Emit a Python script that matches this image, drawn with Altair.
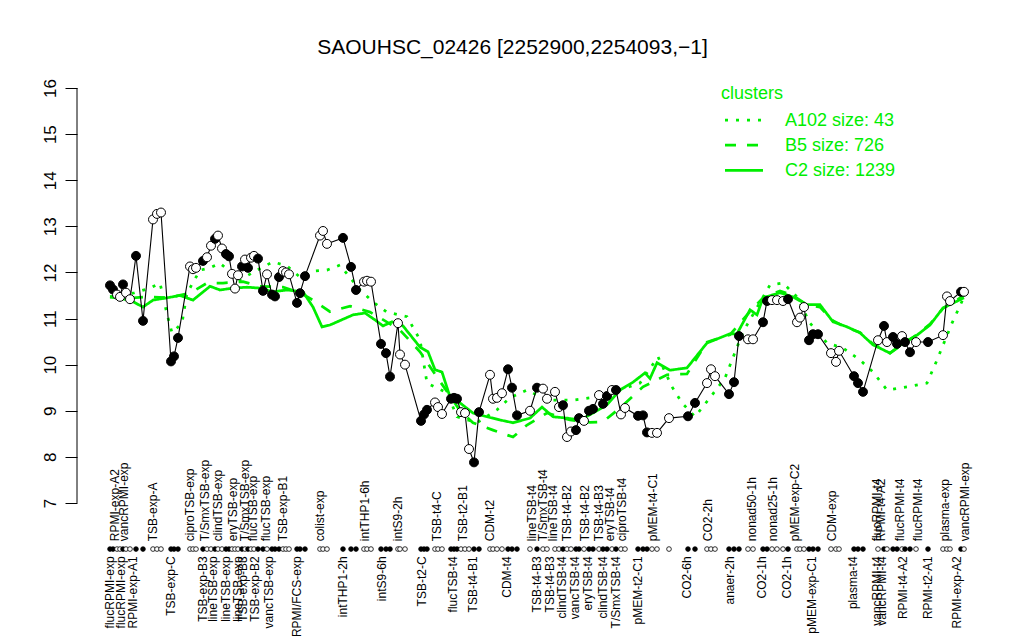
import altair as alt
import pandas as pd

# ---- sample data (position along the x ordering, expression value, filled marker) ----
pos = [110, 113, 117, 120, 123, 126, 130, 136, 143, 153, 157, 161, 171, 174, 178,
       190, 193, 196, 203, 207, 211, 215, 218, 222, 226, 229, 232, 235, 238, 242,
       245, 248, 251, 254, 258, 263, 267, 272, 275, 279, 283, 286, 289, 297, 300,
       305, 320, 323, 327, 343, 351, 356, 364, 367, 371, 381, 386, 390, 398, 400,
       405, 421, 424, 427, 435, 438, 442, 451, 454, 457, 461, 465, 469, 474, 479,
       490, 493, 497, 502, 508, 512, 517, 530, 537, 543, 547, 555, 559, 563, 567,
       571, 576, 579, 584, 589, 593, 599, 603, 607, 612, 616, 621, 625, 638, 643,
       647, 652, 657, 669, 688, 695, 707, 711, 715, 729, 734, 739, 748, 753, 763,
       767, 772, 777, 783, 788, 797, 800, 804, 809, 813, 818, 831, 836, 839, 854,
       858, 863, 878, 884, 887, 893, 897, 902, 905, 910, 916, 928, 943, 947, 950,
       961, 964]
val = [11.72, 11.63, 11.52, 11.47, 11.74, 11.56, 11.42, 12.36, 10.95, 13.15, 13.27, 13.30, 10.07, 10.18, 10.58,
       12.13, 12.07, 12.10, 12.25, 12.33, 12.58, 12.73, 12.80, 12.52, 12.40, 12.35, 11.97, 11.65, 11.94, 12.13,
       12.28, 12.10, 12.32, 12.36, 12.30, 11.60, 11.96, 11.52, 11.48, 11.90, 12.03, 12.00, 11.96, 11.34, 11.55,
       11.92, 12.80, 12.90, 12.62, 12.75, 12.12, 11.62, 11.80, 11.82, 11.80, 10.45, 10.25, 9.74, 10.90, 10.22,
       10.00, 8.78, 8.92, 9.02, 9.18, 9.08, 8.93, 9.26, 9.28, 9.26, 8.97, 8.95, 8.17, 7.88, 8.97,
       9.78, 9.26, 9.28, 9.38, 9.90, 9.50, 8.90, 9.00, 9.50, 9.48, 9.26, 9.41, 9.08, 9.12, 8.43,
       8.55, 8.58, 8.84, 8.78, 9.00, 9.04, 9.34, 9.15, 9.32, 9.45, 9.45, 8.92, 9.06, 8.89, 8.90,
       8.53, 8.52, 8.52, 8.84, 8.88, 9.17, 9.60, 9.90, 9.75, 9.36, 9.62, 10.62, 10.55, 10.55, 10.92,
       11.38, 11.40, 11.40, 11.38, 11.42, 10.92, 11.02, 11.25, 10.53, 10.66, 10.66, 10.25, 10.06, 10.30, 9.75,
       9.60, 9.41, 10.53, 10.84, 10.49, 10.60, 10.45, 10.62, 10.49, 10.27, 10.49, 10.49, 10.64, 11.48, 11.38,
       11.58, 11.58]
filled = [1, 1, 0, 0, 1, 0, 0, 1, 1, 0, 0, 0, 1, 1, 1,
          0, 0, 0, 1, 0, 0, 1, 0, 0, 1, 1, 0, 0, 0, 1,
          0, 1, 0, 0, 1, 1, 0, 1, 1, 1, 0, 0, 0, 1, 1,
          1, 0, 0, 0, 1, 1, 1, 0, 0, 0, 1, 1, 1, 0, 0,
          0, 1, 1, 1, 0, 0, 0, 1, 1, 1, 0, 0, 0, 1, 1,
          0, 0, 0, 0, 1, 1, 1, 0, 1, 0, 0, 0, 0, 1, 0,
          0, 1, 1, 0, 1, 1, 0, 1, 1, 0, 1, 0, 0, 1, 1,
          1, 0, 0, 0, 1, 1, 0, 0, 0, 1, 1, 1, 0, 0, 1,
          1, 0, 0, 0, 1, 0, 0, 0, 1, 1, 1, 0, 0, 0, 1,
          1, 1, 0, 1, 0, 1, 1, 0, 1, 1, 0, 1, 0, 0, 0,
          1, 0]

# ---- sample labels (above and below the marker row) ----
top_labels = ["RPMI-exp-A2", "vancRPMI-exp", "TSB-exp-A", "ciproTSB-exp", "T/SmxTSB-exp",
              "clindTSB-exp", "eryTSB-exp", "T/SmxTSB-exp", "flucTSB-exp", "flucTSB-exp",
              "TSB-exp-B1", "colist-exp", "intTHP1-6h", "intS9-2h", "TSB-t4-C", "TSB-t2-B1",
              "CDM-t2", "lineTSB-t4", "T/SmxTSB-t4", "lineTSB-t4", "TSB-t4-B2", "TSB-t4-B2",
              "TSB-t4-B3", "eryTSB-t4", "ciproTSB-t4", "pMEM-t4-C1", "CO2-2h", "nonad50-1h",
              "nonad25-1h", "pMEM-exp-C2", "CDM-exp", "flucRPMI-t4", "RPMI-t4-A2",
              "flucRPMI-t4", "flucRPMI-t4", "plasma-exp", "vancRPMI-exp"]
top_pos = [115, 124, 153, 190, 205, 218, 233, 245, 253, 266, 283, 320, 365, 398, 437, 463,
           490, 532, 543, 553, 567, 585, 599, 610, 622, 653, 708, 752, 773, 795, 832, 877,
           881, 900, 918, 945, 965]
bottom_labels = ["flucRPMI-exp", "flucRPMI-exp", "RPMI-exp-A1", "TSB-exp-C", "TSB-exp-B3",
                 "lineTSB-exp", "lineTSB-exp", "lineTSB-exp", "TSB-exp-B3", "TSB-exp-B2",
                 "vancTSB-exp", "RPMI/FCS-exp", "intTHP1-2h", "intS9-6h", "TSB-t2-C",
                 "flucTSB-t4", "TSB-t4-B1", "CDM-t4", "TSB-t4-B3", "TSB-t4-B3", "clindTSB-t4",
                 "vancTSB-t4", "eryTSB-t4", "clindTSB-t4", "T/SmxTSB-t4", "pMEM-t2-C1",
                 "CO2-6h", "anaer-2h", "CO2-1h", "CO2-1h", "pMEM-exp-C1", "plasma-t4",
                 "vancRPMI-t4", "vancRPMI-t4", "RPMI-t4-A2", "RPMI-t2-A1", "RPMI-exp-A2"]
bottom_pos = [110, 121, 133, 171, 203, 213, 226, 238, 243, 255, 269, 297, 343, 382, 422,
              453, 473, 507, 537, 550, 562, 575, 588, 603, 616, 638, 687, 730, 762, 787,
              812, 853, 877, 882, 903, 928, 957]

# ---- cluster profiles ----
cluster_names = ["A102", "B5", "C2"]
cluster_sizes = [43, 726, 1239]
a102_pos = [110, 133, 150, 160, 167, 172, 182, 187, 200, 210, 220, 240, 257, 273, 287, 300,
            313, 327, 340, 360, 373, 387, 407, 420, 427, 447, 457, 477, 497, 510, 527, 547,
            573, 597, 620, 640, 658, 672, 682, 695, 712, 725, 743, 770, 783, 797, 810, 827,
            843, 860, 873, 887, 907, 927, 937, 952, 964]
a102_val = [11.47, 11.55, 11.66, 11.77, 11.10, 10.69, 10.90, 11.55, 12.05, 12.10, 12.20, 11.84,
            12.05, 12.23, 12.14, 11.90, 12.03, 12.05, 12.16, 11.62, 11.36, 11.14, 11.04, 10.54,
            9.60, 9.39, 8.87, 8.74, 9.02, 9.28, 9.45, 9.23, 9.23, 9.30, 9.45, 9.60, 10.17, 9.52,
            9.17, 8.87, 9.34, 9.71, 10.71, 11.73, 11.77, 11.47, 10.90, 10.47, 10.36, 10.10, 9.84,
            9.45, 9.52, 9.60, 10.10, 10.90, 11.47]
b5_pos = [110, 133, 147, 167, 190, 207, 223, 243, 260, 283, 300, 313, 330, 350, 370, 385,
          400, 420, 437, 448, 460, 473, 493, 513, 527, 547, 570, 590, 603, 620, 643, 667,
          687, 707, 730, 750, 763, 780, 793, 807, 820, 833, 847, 860, 873, 890, 903, 917,
          930, 943, 964]
b5_val = [11.47, 11.45, 11.47, 11.45, 11.55, 11.77, 11.77, 11.80, 11.70, 11.68, 11.56, 11.40,
          11.15, 11.27, 11.14, 10.95, 10.75, 10.28, 9.73, 9.39, 9.00, 8.74, 8.58, 8.43, 8.69,
          8.95, 8.80, 8.75, 8.76, 9.06, 9.52, 9.78, 9.80, 10.49, 10.65, 11.15, 11.45, 11.60,
          11.50, 11.30, 11.25, 10.95, 10.80, 10.70, 10.45, 10.25, 10.45, 10.65, 10.88, 11.22,
          11.50]
c2_pos = [110, 130, 143, 153, 167, 180, 193, 210, 220, 233, 247, 260, 273, 287, 303, 313,
          322, 330, 353, 365, 375, 383, 392, 403, 420, 428, 435, 442, 450, 460, 473, 487,
          500, 513, 530, 542, 553, 567, 580, 593, 607, 620, 633, 645, 650, 657, 670, 687,
          707, 730, 737, 750, 757, 763, 780, 793, 807, 820, 833, 847, 860, 873, 890, 903,
          917, 930, 943, 964]
c2_val = [11.47, 11.40, 11.25, 11.40, 11.45, 11.50, 11.40, 11.70, 11.62, 11.66, 11.68, 11.66,
          11.58, 11.62, 11.58, 11.25, 10.82, 10.86, 11.08, 11.12, 10.97, 10.84, 10.93, 10.84,
          10.38, 10.28, 9.89, 9.84, 9.30, 9.17, 8.95, 8.87, 8.80, 8.74, 8.84, 9.08, 8.87, 8.84,
          8.80, 8.95, 9.13, 9.45, 9.62, 9.82, 9.70, 10.04, 9.88, 9.93, 10.47, 10.67, 10.67,
          11.19, 11.08, 11.45, 11.56, 11.47, 11.30, 11.30, 10.93, 10.82, 10.69, 10.43, 10.25,
          10.47, 10.64, 10.86, 11.23, 11.45]

y_ticks = [7, 8, 9, 10, 11, 12, 13, 14, 15, 16]
title_text = "SAOUHSC_02426 [2252900,2254093,\u22121]"

GREEN = "#00ee00"
FONT = "Liberation Sans"
DASHES = [[3, 8], [11, 11], [1, 0]]

# ---- tables ----
samples = pd.DataFrame({"pos": pos, "val": val,
                        "kind": ["filled" if f else "open" for f in filled]})
samples["idx"] = range(len(samples))

rows = []
for name, xs, ys in [("A102", a102_pos, a102_val), ("B5", b5_pos, b5_val), ("C2", c2_pos, c2_val)]:
    for i, (xx, yy) in enumerate(zip(xs, ys)):
        rows.append({"cluster": name, "pos": xx, "val": yy, "idx": i})
clusters = pd.DataFrame(rows)

top_df = pd.DataFrame({"label": top_labels, "pos": top_pos})
bot_df = pd.DataFrame({"label": bottom_labels, "pos": bottom_pos})

xscale = alt.Scale(domain=[77, 1000], nice=False, zero=False)
yscale = alt.Scale(domain=[6.5, 16.5], nice=False, zero=False)
X = alt.X("pos:Q", scale=xscale, axis=None)


def Y(field="val:Q"):
    return alt.Y(field, scale=yscale, title=None,
                 axis=alt.Axis(values=y_ticks, grid=False, domain=False, ticks=True,
                               tickSize=12, tickColor="black", labelAngle=270,
                               labelFont=FONT, labelFontSize=17, labelColor="black",
                               labelPadding=6, labelBaseline="bottom", labelAlign="center"))


fill_scale = alt.Scale(domain=["filled", "open"], range=["black", "white"])

cluster_lines = alt.Chart(clusters).mark_line(color=GREEN, strokeWidth=2.75).encode(
    x=X, y=Y(),
    strokeDash=alt.StrokeDash("cluster:N", scale=alt.Scale(domain=cluster_names, range=DASHES),
                              legend=None),
    order="idx:Q")

sample_line = alt.Chart(samples).mark_line(color="black", strokeWidth=1.1).encode(
    x=X, y=Y(), order="idx:Q")

sample_pts = alt.Chart(samples).mark_circle(size=80, stroke="black", strokeWidth=1,
                                            opacity=1).encode(
    x=X, y=Y(), fill=alt.Fill("kind:N", scale=fill_scale, legend=None))

row_dots = alt.Chart(samples).mark_circle(size=22, stroke="black", strokeWidth=0.8,
                                          opacity=1).encode(
    x=X, y=alt.datum(6.0), fill=alt.Fill("kind:N", scale=fill_scale, legend=None))

top_text = alt.Chart(top_df).mark_text(angle=270, align="left", baseline="middle",
                                       font=FONT, fontSize=12, color="black").encode(
    x=X, y=alt.datum(6.17), text="label:N")

bot_text = alt.Chart(bot_df).mark_text(angle=270, align="right", baseline="middle",
                                       font=FONT, fontSize=12, color="black").encode(
    x=X, y=alt.datum(5.84), text="label:N")

axis_line = alt.Chart(pd.DataFrame({"lo": [min(y_ticks)], "hi": [max(y_ticks)]})).mark_rule(
    color="black", strokeWidth=1).encode(
    x=alt.value(0), y=alt.Y("lo:Q", scale=yscale), y2="hi:Q")

# ---- manual legend ----
legend_layers = []
legend_layers.append(
    alt.Chart(pd.DataFrame({"t": ["clusters"]})).mark_text(
        align="left", baseline="alphabetic", font=FONT, fontSize=18, color=GREEN).encode(
        x=alt.value(644), y=alt.value(34), text="t:N"))
for i, (name, size) in enumerate(zip(cluster_names, cluster_sizes)):
    legend_layers.append(
        alt.Chart(pd.DataFrame({"t": [name]})).mark_rule(
            color=GREEN, strokeWidth=2.75, strokeDash=DASHES[i]).encode(
            x=alt.value(648), x2=alt.value(686), y=alt.value(55 + 25.2 * i)))
    legend_layers.append(
        alt.Chart(pd.DataFrame({"t": [f"{name} size: {size}"]})).mark_text(
            align="left", baseline="alphabetic", font=FONT, fontSize=18, color=GREEN).encode(
            x=alt.value(708), y=alt.value(61 + 25.2 * i), text="t:N"))

chart = alt.layer(
    cluster_lines, sample_line, sample_pts, row_dots, top_text, bot_text, axis_line,
    *legend_layers
).properties(
    width=923, height=461,
    background="white",
    padding={"left": 69, "top": 57, "right": 8, "bottom": 114},
    autosize=alt.AutoSizeParams(type="none"),
    title=alt.TitleParams(title_text, font=FONT, fontSize=21, fontWeight="normal",
                          anchor="middle", frame="group", dx=-26, offset=7, color="black"),
).configure_view(stroke=None, strokeWidth=0)

chart.save("out.html", embed_options={"renderer": "svg", "actions": False})
